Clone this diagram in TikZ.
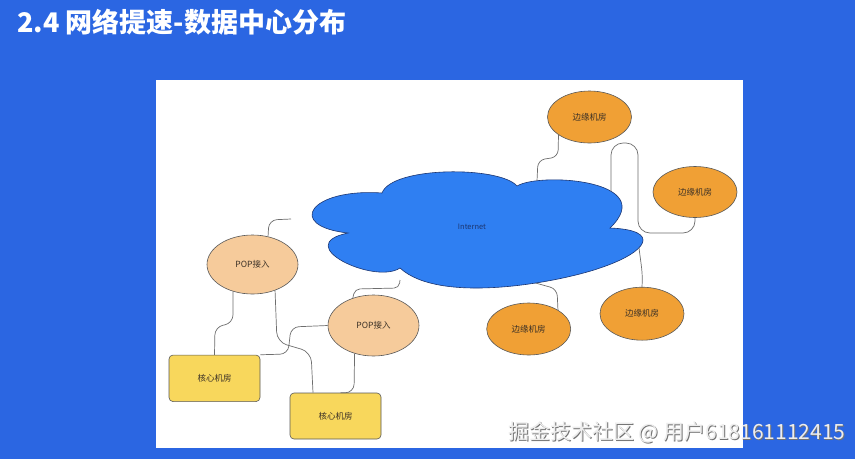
\documentclass[tikz,border=0pt]{standalone}
\usepackage{fontspec}
\setmainfont{Noto Sans CJK SC}
\newfontfamily\cjk{Noto Sans CJK SC}
\usetikzlibrary{shapes.geometric,calc}
\definecolor{bgblue}{HTML}{2B66E2}
\definecolor{cloudc}{HTML}{2F7FF2}
\definecolor{cloudline}{HTML}{1C3570}
\definecolor{popc}{HTML}{F6CB9B}
\definecolor{edgec}{HTML}{F0A035}
\definecolor{corec}{HTML}{F8D75C}
\definecolor{linkc}{HTML}{6E6E6E}
\definecolor{labc}{HTML}{3A3026}
\tikzset{
  lbl/.style={font=\cjk\fontsize{8.5}{10}\selectfont, text=labc},
  popst/.style={ellipse, draw=black!65, line width=0.6pt, fill=popc, inner sep=0pt, lbl},
  edgest/.style={ellipse, draw=black!65, line width=0.6pt, fill=edgec, inner sep=0pt,
    minimum width=84pt, minimum height=52pt, lbl},
  corest/.style={rectangle, rounded corners=4pt, draw=black!65, line width=0.6pt, fill=corec,
    minimum width=91pt, minimum height=46.5pt, inner sep=0pt, lbl},
  link/.style={draw=linkc, line width=0.7pt, rounded corners=8pt}
}
\begin{document}
\begin{tikzpicture}[x=1pt,y=-1pt]
\fill[bgblue] (0,0) rectangle (855,459);
\useasboundingbox (0,0) rectangle (855,459);
\fill[white] (156,80) rectangle (743,448);

% title
\node[anchor=west, text=white, font=\cjk\bfseries\fontsize{27}{30}\selectfont, inner sep=0pt] (title) at (17,22) {2.4 网络提速-数据中心分布};

% cloud
\draw[fill=cloudc, draw=cloudline, line width=0.6pt]
  (348,233) .. controls (285,226) and (310,188) .. (382,193)
  .. controls (392,166) and (500,166) .. (517,186)
  .. controls (540,172) and (660,180) .. (610,228)
  .. controls (662,230) and (648,252) .. (600,268)
  .. controls (560,282) and (440,305) .. (400,268)
  .. controls (375,285) and (290,245) .. cycle;
\node[font=\fontsize{7.5}{9}\selectfont, text=cloudline] (inet) at (472,227) {Internet};

\coordinate (cl1) at (537,181);
\coordinate (cl2) at (611,191.5);
\coordinate (cl3) at (639,247.6);
\coordinate (cl4) at (535.5,283);
\coordinate (d1) at (291,219);
\coordinate (d2) at (400,280);

% nodes
\node[popst, minimum width=91pt, minimum height=59pt] (pop1) at (252.5,264.5) {POP接入};
\node[popst, minimum width=91pt, minimum height=61pt] (pop2) at (373.5,325.5) {POP接入};
\node[corest] (core1) at (214.5,378.3) {核心机房};
\node[corest, minimum height=46pt] (core2) at (335.5,416) {核心机房};
\node[edgest] (e1) at (589.5,117) {边缘机房};
\node[edgest, minimum height=51pt] (e2) at (695,192) {边缘机房};
\node[edgest, minimum height=53pt] (e3) at (642,313.7) {边缘机房};
\node[edgest] (e4) at (528.7,329) {边缘机房};

% links
\draw[link, rounded corners=7pt] (e1.210) -- (558,157) -- (538,160) -- (cl1);
\draw[link, rounded corners=12pt] (cl2) -- (611,143) -- (638,143) -- (638,233) -| (e2.south);
\draw[link] (cl3) .. controls (641,265) and (643,272) .. (e3.north);
\draw[link, rounded corners=7pt] (cl4) -- (557,289) -- (e4.33);
\draw[link, rounded corners=8pt] (pop1.61) -- (269,220) -- (d1);
\draw[link, rounded corners=5pt] (pop2.127) -- (355,289) -- (399,288) -- (d2);
\draw[link, rounded corners=8pt] (pop1.234) -- (233,323) -- (215,327) -- (core1.north);
\draw[link, rounded corners=10pt] (pop1.-49) -- (277,342) -- (311,352) -- ($(core2.north)+(-22.5,0)$);
\draw[link, rounded corners=8pt] (pop2.west) -- (291,327) -- (288,354) -- (core1.north east);
\draw[link, rounded corners=9pt] (pop2.236) -- (354,393) -- ($(core2.north)+(5,0)$);

% watermark
\node[anchor=west, text=black!55, font=\cjk\fontsize{21}{24}\selectfont, inner sep=0pt] (wmshadow) at (509,433) {掘金技术社区 @ 用户618161112415};
\node[anchor=west, text=white!93!black, font=\cjk\fontsize{21}{24}\selectfont, inner sep=0pt] (wm) at (508,432) {掘金技术社区 @ 用户618161112415};
\end{tikzpicture}
\end{document}
